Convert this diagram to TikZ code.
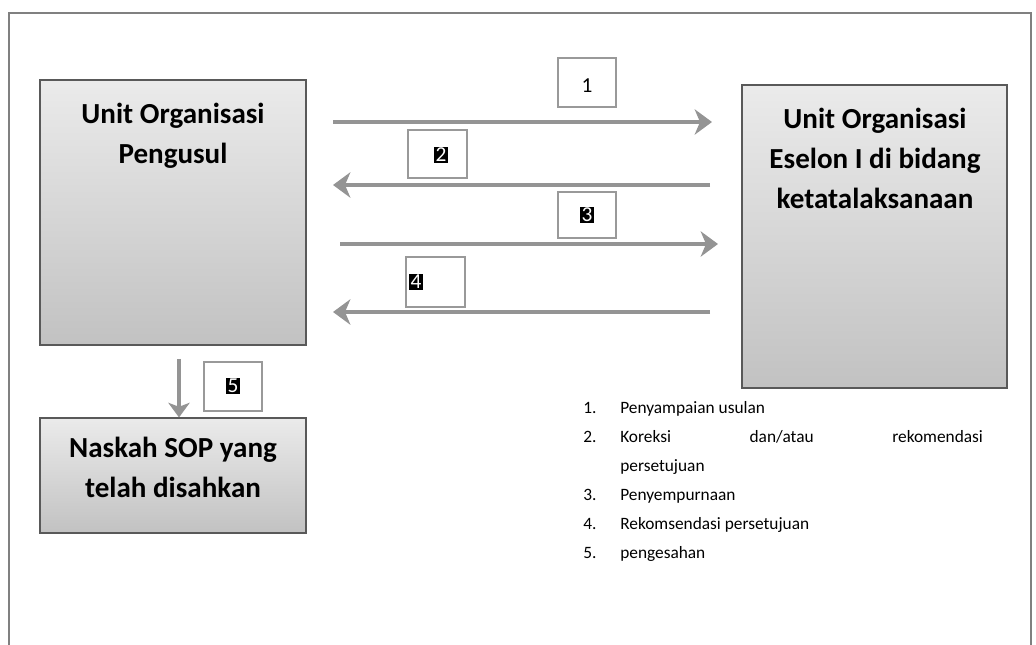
\documentclass[tikz,border=0pt]{standalone}
\usepackage{fontspec}
\setmainfont{Carlito}
\usetikzlibrary{arrows.meta}
\begin{document}
\begin{tikzpicture}[x=0.75pt,y=-0.75pt,
  frame/.style={draw=black!50, line width=1.4pt},
  bigbox/.style={draw=black!65, line width=0.8pt, top color=black!8, bottom color=black!24, inner sep=0pt},
  title/.style={font=\bfseries\fontsize{21.8}{30}\selectfont, align=center, inner sep=0pt, anchor=north},
  numbox/.style={draw=black!40, line width=1.6pt, fill=white, inner sep=0pt},
  flow/.style={draw=black!42, line width=3.3pt, -{Stealth[length=13pt,width=19pt,inset=4pt]}},
  down/.style={draw=black!42, line width=3pt, -{Stealth[length=11pt,width=16pt,inset=3pt]}},
  plain/.style={inner sep=0pt, font=\fontsize{16}{16}\selectfont},
  hl/.style={fill=black, text=white, inner sep=1pt, font=\fontsize{16}{16}\selectfont},
  item/.style={anchor=base west, inner sep=0pt, font=\fontsize{13}{15}\selectfont}]
\useasboundingbox (0,0) rectangle (1036,645);
\draw[frame] (9,645) -- (9,13) -- (1031,13) -- (1031,645);

% main boxes
\node[bigbox, minimum width=199.5pt, minimum height=198.75pt] (pengusul) at (173,212.5) {};
\node[title] (pengusulT) at (173,103) {Unit Organisasi\\Pengusul};
\node[bigbox, minimum width=198.75pt, minimum height=227.25pt] (eselon) at (874.5,236.5) {};
\node[title] (eselonT) at (875,108) {Unit Organisasi\\Eselon I di bidang\\ketatalaksanaan};
\node[bigbox, minimum width=199.5pt, minimum height=86.25pt] (naskah) at (173,475.5) {};
\node[title] (naskahT) at (173,437) {Naskah SOP yang\\telah disahkan};

% arrow end points
\coordinate (a1s) at (333,122); \coordinate (a1e) at (712,122);
\coordinate (a2s) at (710,185); \coordinate (a2e) at (333,185);
\coordinate (a3s) at (340,244); \coordinate (a3e) at (718,244);
\coordinate (a4s) at (710,312); \coordinate (a4e) at (333,312);
\coordinate (a5s) at (179,359);

% number boxes
\node[numbox, minimum width=43.5pt, minimum height=36.75pt] (b1) at (587,82.5) {};
\node[numbox, minimum width=44.25pt, minimum height=36pt] (b2) at (437.5,154) {};
\node[numbox, minimum width=43.5pt, minimum height=34.5pt] (b3) at (587,215) {};
\node[numbox, minimum width=44.25pt, minimum height=37.5pt] (b4) at (435.5,282) {};
\node[numbox, minimum width=43.5pt, minimum height=36.75pt] (b5) at (233,386.5) {};

% arrows
\draw[flow] (a1s) -- (a1e);
\draw[flow] (a2s) -- (a2e);
\draw[flow] (a3s) -- (a3e);
\draw[flow] (a4s) -- (a4e);
\draw[down] (a5s) -- (a5s |- naskah.north);

% numbers
\node[plain] (n1) at (587,86) {1};
\node[hl] (n2) at (441,155) {2};
\node[hl] (n3) at (587,215) {3};
\node[hl] (n4) at (416,282) {4};
\node[hl] (n5) at (233,386) {5};

% legend
\node[item] (l1) at (583,413) {1.};
\node[item] (t1) at (620,413) {Penyampaian usulan};
\node[item] (l2) at (583,442) {2.};
\node[item] (t2) at (620,442) {\hbox to 272pt{Koreksi\hfill dan/atau\hfill rekomendasi}};
\node[item] (t2b) at (620,471) {persetujuan};
\node[item] (l3) at (583,500) {3.};
\node[item] (t3) at (620,500) {Penyempurnaan};
\node[item] (l4) at (583,529) {4.};
\node[item] (t4) at (620,529) {Rekomsendasi persetujuan};
\node[item] (l5) at (583,558) {5.};
\node[item] (t5) at (620,558) {pengesahan};
\end{tikzpicture}
\end{document}
